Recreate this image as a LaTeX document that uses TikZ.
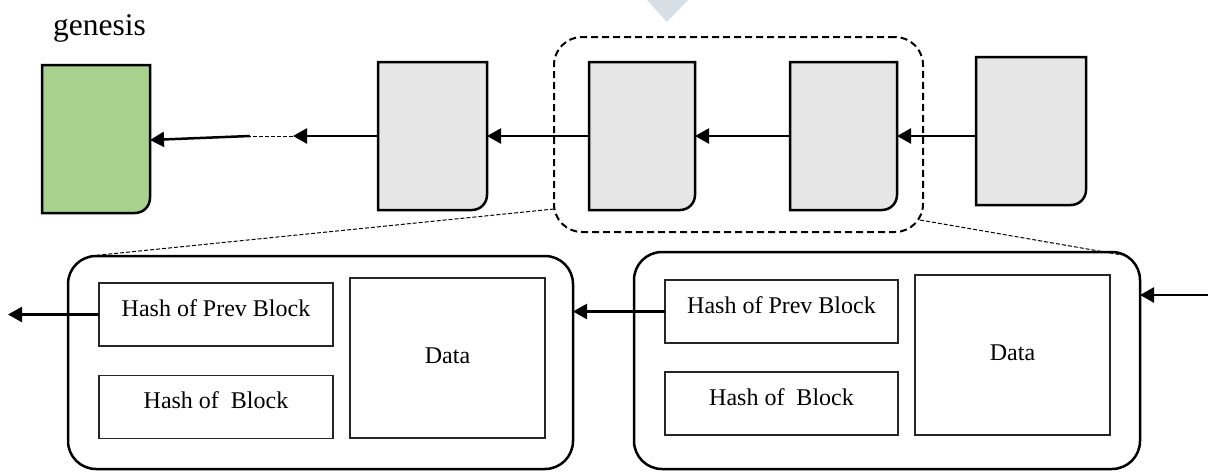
\documentclass[tikz,border=0pt]{standalone}
\usepackage{fontspec}
\setmainfont{Liberation Serif}
\usetikzlibrary{arrows.meta}
\definecolor{gengreen}{HTML}{A9D18E}
\definecolor{blkgray}{HTML}{E6E6E6}
\definecolor{tri}{HTML}{D6DEE6}
\newcommand\blkshape[2]{\draw[line width=2.5pt,fill=#2] (#1.north west) -- (#1.north east) -- ([yshift=15pt]#1.south east) arc[start angle=0,end angle=-90,radius=15pt] -- (#1.south west) -- cycle;}
\tikzset{
  blocknode/.style={inner sep=0pt,outer sep=0pt,minimum height=148pt},
  arr/.style={line width=2.5pt,-{Triangle[length=14pt,width=15pt]}},
  zoomline/.style={line width=1pt,dash pattern=on 4pt off 2pt},
  bigbox/.style={draw,line width=2.5pt,rounded corners=28pt,inner sep=0pt,outer sep=0pt},
  inbox/.style={draw=black!85,line width=1.2pt,inner sep=0pt,outer sep=0pt,font=\fontsize{24}{28}\selectfont},
  hashbox/.style={inbox,minimum width=234pt,minimum height=63pt,text height=16pt,text depth=13pt},
  databox/.style={inbox,minimum width=195pt,minimum height=160pt,text height=16pt,text depth=6pt}
}
\begin{document}
\begin{tikzpicture}[x=1pt,y=1pt]
\useasboundingbox (0,0) rectangle (1208,-472);
% top marker
\fill[tri] (647,0) -- (688,0) -- (667,-22) -- cycle;
% genesis label
\node[anchor=base,font=\fontsize{31.5}{36}\selectfont,inner sep=0pt] (glabel) at (99.5,-35) {genesis};
% top row blocks
\node[blocknode,minimum width=108pt] (g) at (96,-139) {};
\node[blocknode,minimum width=109pt] (b2) at (432.5,-136) {};
\node[blocknode,minimum width=106pt] (b3) at (642,-136) {};
\node[blocknode,minimum width=107pt] (b4) at (843.5,-136) {};
\node[blocknode,minimum width=110pt] (b5) at (1031,-131) {};
\blkshape{g}{gengreen}
\blkshape{b2}{blkgray}
\blkshape{b3}{blkgray}
\blkshape{b4}{blkgray}
\blkshape{b5}{blkgray}
% selection
\node[draw,line width=2pt,dash pattern=on 7pt off 4pt,rounded corners=28pt,minimum width=369pt,minimum height=195pt,inner sep=0pt,outer sep=0pt] (sel) at (738.5,-134.5) {};
% top arrows
\coordinate (c1) at (293,-136);
\coordinate (c2) at (250,-136);
\draw[arr] ([yshift=-5pt]b5.west) -- (b4.east);
\draw[arr] (b4.west) -- (b3.east);
\draw[arr] (b3.west) -- (b2.east);
\draw[arr] (b2.west) -- (c1);
\draw[zoomline] (c1) -- (c2);
\draw[arr] (c2) -- ([yshift=-1pt]g.east);
% bottom big boxes
\node[bigbox,minimum width=505pt,minimum height=213pt] (L) at (320.5,-362.5) {};
\node[bigbox,minimum width=506pt,minimum height=217pt] (R) at (887,-360.5) {};
% zoom lines
\coordinate (z1) at (554,-209);
\coordinate (z2) at (90,-256);
\coordinate (z3) at (920,-220);
\coordinate (z4) at (1122,-255);
\draw[zoomline] (z1) -- (z2);
\draw[zoomline] (z3) -- (z4);
% inner boxes
\node[hashbox] (LP) at (216,-314.5) {Hash of Prev Block};
\node[hashbox] (LH) at (216,-407) {Hash of\ \ Block};
\node[databox] (LD) at (447.5,-358) {Data};
\node[hashbox,minimum width=233pt] (RP) at (781.5,-311.5) {Hash of Prev Block};
\node[hashbox,minimum width=233pt] (RH) at (781.5,-403.5) {Hash of\ \ Block};
\node[databox] (RD) at (1012.5,-355) {Data};
% bottom arrows
\coordinate (a1) at (8,-314.5);
\coordinate (a2) at (1208,-295);
\draw[arr] (LP.west) -- (a1);
\draw[arr] (RP.west) -- (RP.west -| L.east);
\draw[arr] (a2) -- (a2 -| R.east);
\end{tikzpicture}
\end{document}
